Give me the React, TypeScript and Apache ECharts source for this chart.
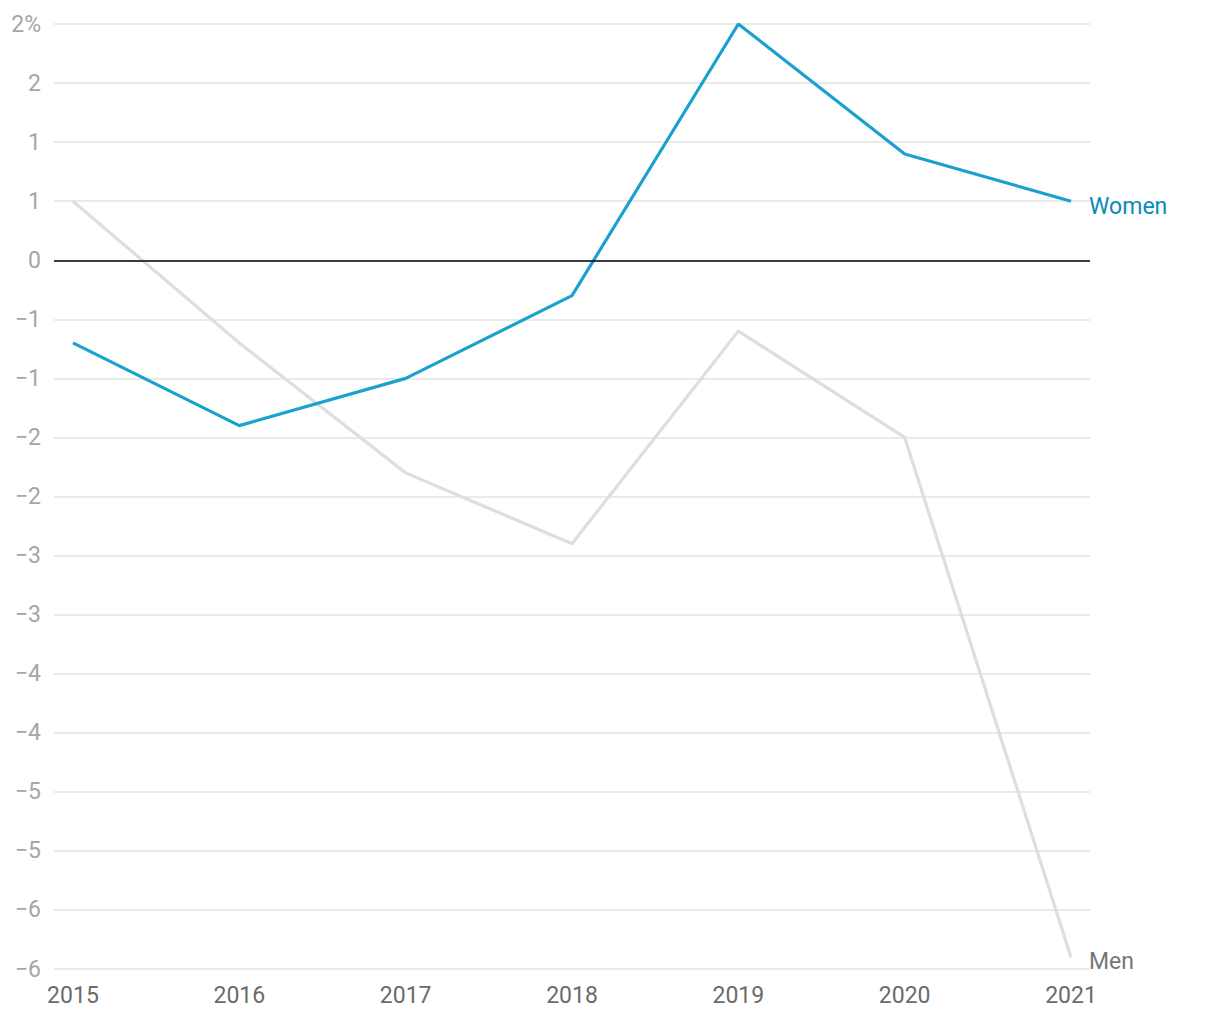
import React, { useEffect, useRef } from "react";
import * as echarts from "echarts";

const years = [2015, 2016, 2017, 2018, 2019, 2020, 2021];
const women = [-0.7, -1.4, -1.0, -0.3, 2.0, 0.9, 0.5];
const men = [0.5, -0.7, -1.8, -2.4, -0.6, -1.5, -5.9];
const seriesNames = ["Women", "Men"];

function fmtY(v: number): string {
  const r = Math.sign(v) * Math.round(Math.abs(v));
  if (v >= 1.99) return r + "%";
  if (r < 0) return "\u2212" + Math.abs(r);
  return String(r === 0 ? 0 : r);
}

export default function App() {
  const ref = useRef<HTMLDivElement>(null);
  useEffect(() => {
    if (!ref.current) return;
    const chart = echarts.init(ref.current, null, { renderer: "svg" });
    const font = "Roboto";
    chart.setOption({
      animation: false,
      textStyle: { fontFamily: font },
      grid: { left: 46, right: 122, top: 16, bottom: 43, containLabel: false },
      xAxis: {
        type: "value",
        min: years[0] - 0.114,
        max: years[years.length - 1] + 0.114,
        axisLine: { show: false },
        axisTick: { show: false },
        splitLine: { show: false },
        axisLabel: {
          customValues: years,
          color: "#6b6b6b",
          fontSize: 23,
          fontFamily: font,
          margin: 15,
          formatter: (v: number) => String(v),
        },
      },
      yAxis: {
        type: "value",
        min: -6,
        max: 2,
        interval: 0.5,
        axisLine: { show: false },
        axisTick: { show: false },
        splitLine: { lineStyle: { color: "#e3e3e3", width: 1.5 } },
        axisLabel: {
          color: "#a6a6a6",
          fontSize: 23,
          fontFamily: font,
          margin: 13,
          formatter: (v: number) => fmtY(v),
        },
      },
      series: [
        {
          name: seriesNames[1],
          type: "line",
          data: years.map((y, i) => [y, men[i]]),
          symbol: "none",
          lineStyle: { color: "#dedede", width: 3.2 },
          z: 2,
          endLabel: {
            show: true,
            formatter: seriesNames[1],
            color: "#777777",
            fontSize: 23,
            fontFamily: font,
            distance: 18,
            offset: [0, 4],
          },
          markLine: {
            silent: true,
            symbol: "none",
            label: { show: false },
            lineStyle: { color: "#000000", width: 1.5, type: "solid" },
            data: [{ yAxis: 0 }],
          },
        },
        {
          name: seriesNames[0],
          type: "line",
          data: years.map((y, i) => [y, women[i]]),
          symbol: "none",
          lineStyle: { color: "#1ba1cf", width: 3.2 },
          z: 3,
          endLabel: {
            show: true,
            formatter: seriesNames[0],
            color: "#0a8bb8",
            fontSize: 23,
            fontFamily: font,
            distance: 18,
            offset: [0, 5],
          },
        },
      ],
    });
    return () => chart.dispose();
  }, []);
  return <div ref={ref} style={{ width: 1204, height: 1004 }} />;
}
